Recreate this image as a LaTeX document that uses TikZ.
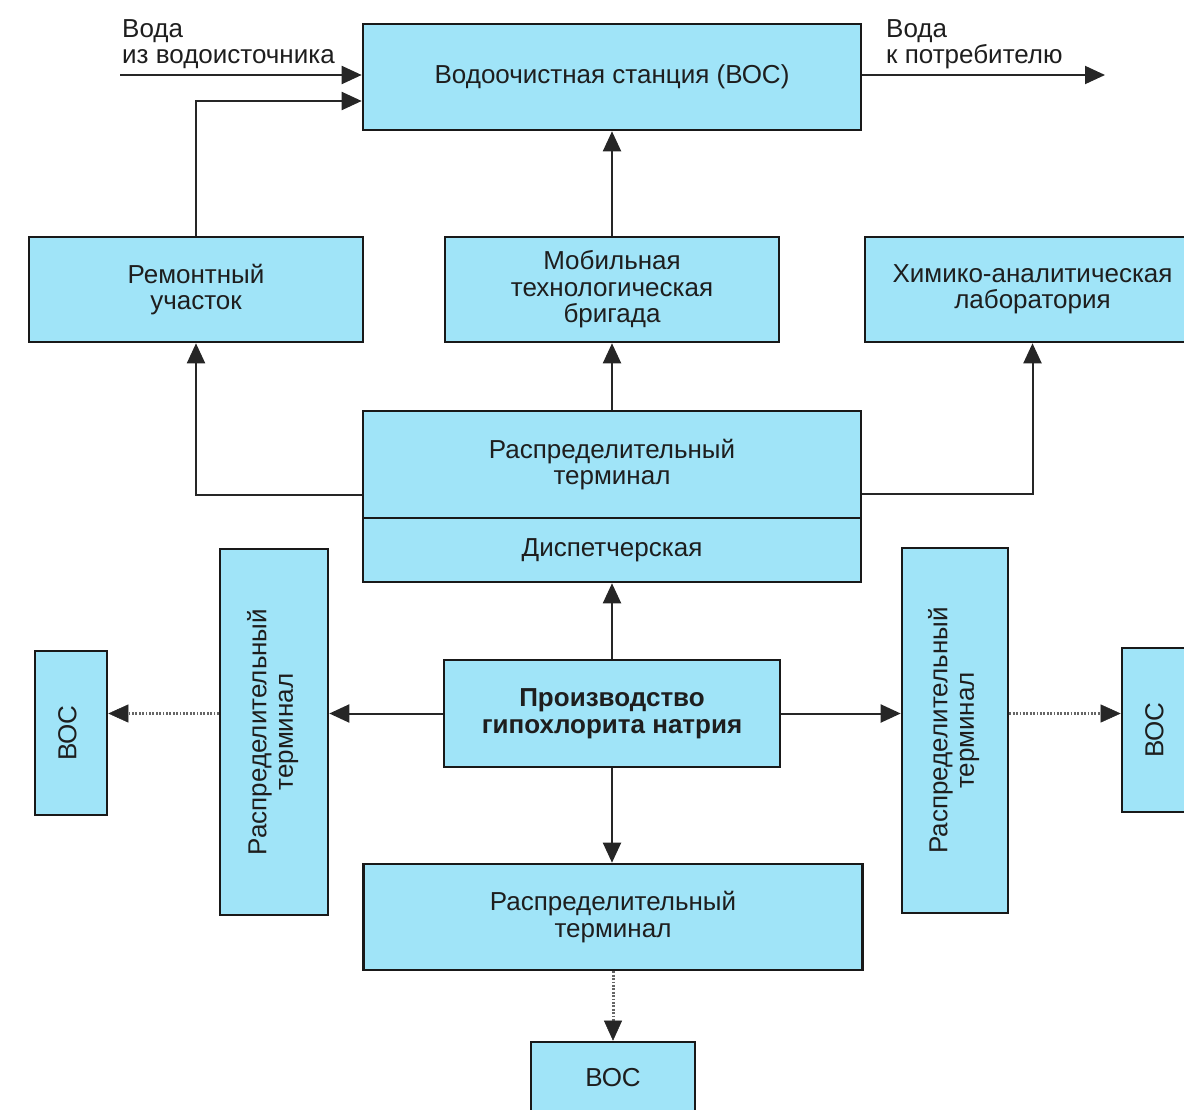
\documentclass[tikz,border=0pt]{standalone}
\usepackage{fontspec}
\setmainfont{Liberation Sans}
\usetikzlibrary{arrows.meta,calc}
\definecolor{boxfill}{RGB}{160,228,248}
\definecolor{txt}{RGB}{30,30,30}
\begin{document}
\begin{tikzpicture}[x=1pt,y=-1pt,
  box/.style={draw=black!90,fill=boxfill,line width=2.6pt,inner sep=0pt,align=center,text=txt,
    font=\fontsize{26}{26.5}\selectfont},
  lbl/.style={inner sep=0pt,align=left,text=txt,font=\fontsize{26}{26.5}\selectfont},
  arr/.style={line width=2pt,draw=black!85,-{Triangle[length=20pt,width=18pt]}},
  dot/.style={line width=3pt,draw=black!60,dash pattern=on 1.8pt off 1.6pt,
    -{Triangle[length=20pt,width=18pt,line width=0.5pt,color=black!85]}}]
\useasboundingbox (0,0) rectangle (1184,1110);
\def\vt#1{\rotatebox{90}{\def\arraystretch{1}\begin{tabular}{@{}c@{}}#1\end{tabular}}}
% nodes
\node[box,minimum width=498,minimum height=106] (boc) at (612,77) {Водоочистная станция (ВОС)};
\node[box,minimum width=334,minimum height=105] (rem) at (196,289.5) {Ремонтный\\участок};
\node[box,minimum width=334,minimum height=105] (mob) at (612,289.5) {Мобильная\\технологическая\\бригада};
\node[box,minimum width=335,minimum height=105] (chem) at (1032.5,289.5) {Химико-аналитическая\\лаборатория};
\node[box,minimum width=498,minimum height=107] (rt) at (612,464.5) {Распределительный\\терминал};
\node[box,minimum width=498,minimum height=64] (disp) at (612,550) {Диспетчерская};
\node[box,minimum width=336,minimum height=107,font=\fontsize{26}{26.5}\selectfont\bfseries] (prod) at (612,713.5) {Производство\\гипохлорита натрия};
\node[box,minimum width=108,minimum height=366] (lrt) at (274,732) {\vt{Распределительный\\терминал}};
\node[box,minimum width=72,minimum height=164] (lboc) at (71,733) {\vt{ВОС}};
\node[box,minimum width=106,minimum height=365] (rrt) at (955,730.5) {\vt{Распределительный\\терминал}};
\node[box,minimum width=72,minimum height=164] (rboc) at (1158,730) {\vt{ВОС}};
\node[box,minimum width=499,minimum height=106] (brt) at (613,917) {Распределительный\\терминал};
\node[box,minimum width=164,minimum height=72] (bboc) at (613,1078) {ВОС};
% labels
\node[lbl,anchor=north west] (lin) at (122,19) {Вода\\из водоисточника};
\node[lbl,anchor=north west] (lout) at (886,19) {Вода\\к потребителю};
% connectors
\coordinate (win) at (120,75);
\coordinate (wout) at (1105,75);
\draw[arr] (win) -- (win -| boc.west);
\draw[arr] (boc.east |- wout) -- (wout);
\draw[arr] (rem.north) |- ($(boc.west)+(0,24)$);
\draw[arr] (mob.north) -- (boc.south);
\draw[arr] (rt.north) -- (mob.south);
\draw[arr] ($(rt.west)+(0,30)$) -| (rem.south);
\draw[arr] ($(rt.east)+(0,29)$) -| (chem.south);
\draw[arr] (prod.north) -- (disp.south);
\draw[arr] (prod.west) -- (prod.west -| lrt.east);
\draw[dot] (prod.west -| lrt.west) -- (prod.west -| lboc.east);
\draw[arr] (prod.east) -- (prod.east -| rrt.west);
\draw[dot] (prod.east -| rrt.east) -- (prod.east -| rboc.west);
\draw[arr] (prod.south) -- (prod.south |- brt.north);
\draw[dot] (bboc.north |- brt.south) -- (bboc.north);
\end{tikzpicture}
\end{document}
